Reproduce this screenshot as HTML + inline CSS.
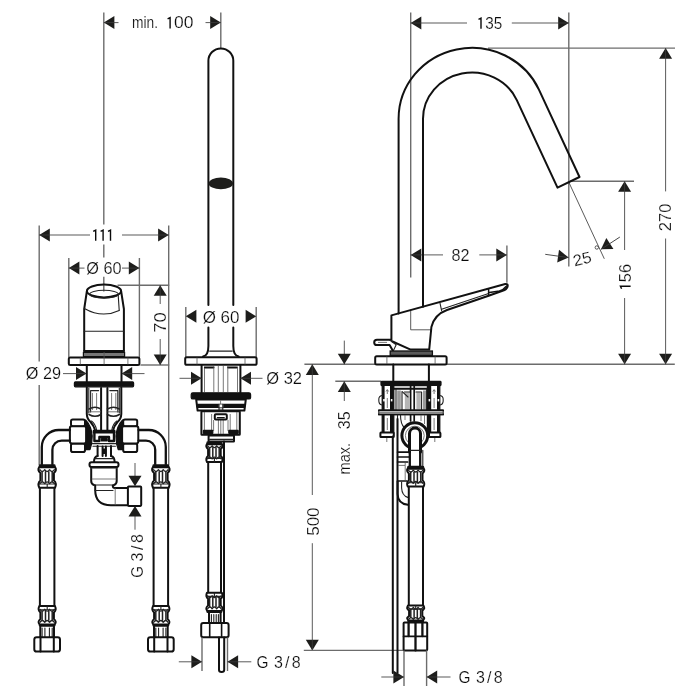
<!DOCTYPE html>
<html><head><meta charset="utf-8"><title>Dimension drawing</title>
<style>
html,body{margin:0;padding:0;background:#fff;}
svg{display:block;will-change:transform}
text{font-family:"Liberation Sans",sans-serif;font-size:16px;fill:#0a0a0a;stroke:#fff;stroke-width:0.2px;paint-order:fill stroke}
.k{stroke:#111;stroke-width:2.0;fill:none;stroke-linejoin:round;stroke-linecap:round}
.kw{stroke:#111;stroke-width:2.0;fill:#fff;stroke-linejoin:round;stroke-linecap:round}
.kf{stroke:#111;stroke-width:1.2;fill:#111;stroke-linejoin:round}
.m{stroke:#222;stroke-width:1.1;fill:none;stroke-linecap:round;stroke-linejoin:round}
.mw{stroke:#222;stroke-width:1.1;fill:#fff;stroke-linejoin:round}
.g{stroke:#555;stroke-width:0.8;fill:none}
.t{stroke:#3c3c3c;stroke-width:0.85;fill:none}
.e{stroke:#6c6c6c;stroke-width:1.4;fill:none}
.a{fill:#1d1d1b;stroke:none}
.one{stroke:#0a0a0a;stroke-width:1.4;fill:none;stroke-linejoin:miter;stroke-linecap:butt}
.w{fill:#fff;stroke:none}
</style></head><body>
<svg width="700" height="700" viewBox="0 0 700 700">
<rect class="w" x="0" y="0" width="700" height="700"/>
<g id="leftview">
<line class="e" x1="103.8" y1="12.5" x2="103.8" y2="224.6"/>
<line class="e" x1="103.8" y1="244.6" x2="103.8" y2="257.5"/>
<line class="e" x1="103.8" y1="276.8" x2="103.8" y2="291.5"/>
<line class="e" x1="220.8" y1="12.5" x2="220.8" y2="48.0"/>
<polygon class="a" points="103.8,22.6 114.4,16.1 114.4,29.1"/>
<polygon class="a" points="220.8,22.6 210.2,16.1 210.2,29.1"/>
<line class="t" x1="103.8" y1="22.6" x2="118.5" y2="22.6"/>
<line class="t" x1="205.5" y1="22.6" x2="220.8" y2="22.6"/>
<text x="132.1" y="28.4" textLength="26.0" lengthAdjust="spacingAndGlyphs">min.</text>
<path class="one" d="M167.60 18.90 L170.10 17.70 V28.40"/>
<text x="174.0" y="28.4" textLength="19.4" lengthAdjust="spacingAndGlyphs">00</text>
<line class="e" x1="39.2" y1="225.5" x2="39.2" y2="361.5"/>
<line class="e" x1="39.2" y1="385.0" x2="39.2" y2="465.0"/>
<line class="e" x1="168.7" y1="225.5" x2="168.7" y2="465.0"/>
<polygon class="a" points="39.2,235.0 49.8,228.5 49.8,241.5"/>
<polygon class="a" points="168.7,235.0 158.1,228.5 158.1,241.5"/>
<line class="t" x1="39.2" y1="235.0" x2="90.0" y2="235.0"/>
<line class="t" x1="122.0" y1="235.0" x2="168.7" y2="235.0"/>
<path class="one" d="M93.20 231.30 L95.70 230.10 V240.80"/>
<path class="one" d="M100.60 231.30 L103.10 230.10 V240.80"/>
<path class="one" d="M108.00 231.30 L110.50 230.10 V240.80"/>
<line class="e" x1="68.8" y1="258.0" x2="68.8" y2="357.0"/>
<line class="e" x1="139.4" y1="258.0" x2="139.4" y2="357.0"/>
<polygon class="a" points="68.8,268.1 79.4,261.6 79.4,274.6"/>
<polygon class="a" points="139.4,268.1 128.8,261.6 128.8,274.6"/>
<line class="t" x1="68.8" y1="268.1" x2="84.5" y2="268.1"/>
<line class="t" x1="122.0" y1="268.1" x2="139.4" y2="268.1"/>
<text x="86.3" y="273.8" textLength="35.3" lengthAdjust="spacingAndGlyphs">Ø 60</text>
<line class="e" x1="117.5" y1="285.2" x2="169.2" y2="285.2"/>
<line class="e" x1="140.4" y1="365.0" x2="169.2" y2="365.0"/>
<polygon class="a" points="160.2,285.2 153.7,295.8 166.7,295.8"/>
<polygon class="a" points="160.2,365.0 153.7,354.4 166.7,354.4"/>
<line class="t" x1="160.2" y1="285.2" x2="160.2" y2="304.0"/>
<line class="t" x1="160.2" y1="339.0" x2="160.2" y2="365.0"/>
<text x="166.4" y="332.8" textLength="20.5" lengthAdjust="spacingAndGlyphs" transform="rotate(-90 166.4 332.8)">70</text>
<polygon class="a" points="86.6,373.6 76.0,367.1 76.0,380.1"/>
<polygon class="a" points="121.6,373.6 132.2,367.1 132.2,380.1"/>
<line class="t" x1="63.0" y1="373.6" x2="86.6" y2="373.6"/>
<line class="t" x1="121.6" y1="373.6" x2="144.5" y2="373.6"/>
<text x="25.8" y="379.4" textLength="35.2" lengthAdjust="spacingAndGlyphs">Ø 29</text>
<path class="k" d="M86.9 291 L84.2 309 V351 M121.1 291 L123.9 309 V351" />
<ellipse class="k" cx="104" cy="291" rx="17.1" ry="6.4"/>
<ellipse class="m" cx="104" cy="294.2" rx="14.4" ry="3.9"/>
<path class="m" d="M118.2 295 L119.2 310.2" />
<path class="m" d="M84.4 308.4 Q102 318.6 119.2 310.4" />
<line class="m" x1="84.2" y1="331.2" x2="123.9" y2="331.2"/>
<path class="k" d="M84.2 350.9 H123.9" />
<rect x="83.4" y="352.4" width="41.2" height="4.2" fill="#777" stroke="#111" stroke-width="1.2"/>
<rect class="kw" x="68.8" y="357.4" width="70.6" height="7.7" rx="1.4" />
<line class="g" x1="80.3" y1="357.5" x2="80.3" y2="364.5"/>
<line class="g" x1="104.1" y1="352.0" x2="104.1" y2="364.5"/>
<line class="g" x1="127.9" y1="357.5" x2="127.9" y2="364.5"/>
<path class="k" d="M86.8 365 V381.5 M121.5 365 V381.5" />
<rect class="kf" x="74.4" y="381.9" width="59.2" height="4.9" rx="1.0" />
<path class="k" d="M86.8 387.5 V414 Q87 419 90.6 422 Q94 426 95 430 M121.3 387.5 V414 Q121.1 419 117.5 422 Q114 426 113.2 430" />
<path class="m" d="M88.8 388 V413 M119.3 388 V413" />
<path class="k" d="M101.1 388 V431 M107.4 388 V431" />
<path class="m" d="M90.6 390.6 H98.6 M90.6 390.6 V412 M109.8 390.6 H117.8 V412" />
<path class="g" d="M92.4 393 V410 M96.6 393 V410 M111.6 393 V410 M115.8 393 V410" />
<path class="m" d="M89 409 Q95 405.5 101 409 M107.4 409 Q113.5 405.5 119.4 409 M89 414.5 Q95 418 101 414.5 M107.4 414.5 Q113.5 418 119.4 414.5" style="stroke-width:1.5"/>
<path class="g" d="M89 411.8 H101 M107.4 411.8 H119.4" />
<path class="m" d="M91.5 421 Q95.5 424 96.6 430 M116.8 421 Q112.8 424 111.8 430" />
<rect class="kf" x="93.3" y="430.4" width="21.6" height="2.6" rx="0.5" />
<path class="k" d="M94.4 432 V441 H99.4 V437 H109 V441 H114 V432" style="stroke-width:2.4"/>
<rect class="kf" x="101.4" y="438.6" width="5.8" height="2.4" rx="0.3" />
<path class="m" d="M92.4 443.6 H116 M93 446.2 H115.4" />
<path class="k" d="M102.6 446.5 V456 M105.9 446.5 V456" />
<rect class="kf" x="102.9" y="449.0" width="2.8" height="4.5" rx="0.3" />
<path class="kf" d="M85.6 420 Q91.4 426 92.2 436 Q92.2 444 90 449.6 H85.6 Z" />
<path class="kf" d="M122.6 420 Q116.8 426 116 436 Q116 444 118.2 449.6 H122.6 Z" />
<rect class="kw" x="71.0" y="419.4" width="14.0" height="7.0" rx="1.8" />
<rect class="kw" x="71.0" y="443.4" width="14.0" height="8.6" rx="1.8" />
<rect class="kw" x="69.9" y="426.3" width="16.2" height="17.1" rx="1.8" />
<rect class="kw" x="123.2" y="419.4" width="14.0" height="7.0" rx="1.8" />
<rect class="kw" x="123.2" y="443.4" width="14.0" height="8.6" rx="1.8" />
<rect class="kw" x="122.1" y="426.3" width="16.2" height="17.1" rx="1.8" />
<path class="k" d="M97.6 446 V456 M111 446 V456" />
<path class="k" d="M97.6 456 Q94 457 94 461.8 M111 456 Q114.6 457 114.6 461.8" />
<path class="m" d="M95 458.6 H113.6" />
<rect class="kw" x="89.5" y="462.2" width="29.0" height="4.8" rx="2.0" />
<path class="k" d="M91.2 467 V481 Q91.2 484 94 485 M116.7 467 V481 Q116.7 484 114 485" />
<path class="g" d="M91.5 468.4 H116.5 M91.5 479 H116.5" />
<path class="m" d="M94 485 H114" />
<path class="k" d="M95.2 485.5 V490 Q95.2 505.2 111 505.2 H127.9 M112.8 485.5 V486 Q112.8 488 115 488 H127.9" />
<path class="m" d="M95 490.5 H113" />
<path class="g" d="M115.2 488 V505.2" />
<rect class="kw" x="127.9" y="486.6" width="13.3" height="19.3" rx="0.8" />
<line class="t" x1="135.0" y1="463.0" x2="135.0" y2="477.0"/>
<line class="t" x1="135.0" y1="516.0" x2="135.0" y2="529.7"/>
<polygon class="a" points="135.0,486.3 128.5,475.7 141.5,475.7"/>
<polygon class="a" points="135.0,505.9 128.5,516.5 141.5,516.5"/>
<text x="143.0" y="577.8" textLength="11.6" lengthAdjust="spacingAndGlyphs" transform="rotate(-90 143.0 577.8)">G</text>
<text x="143.0" y="561.4" textLength="27.4" lengthAdjust="spacing" transform="rotate(-90 143.0 561.4)">3/8</text>
<path class="k" d="M70 430 H58.8 A17 17 0 0 0 41.8 447 V465 M70 440.6 H61.6 A9.2 9.2 0 0 0 52.4 449.8 V465" style="stroke-width:2.3"/>
<path class="k" d="M138.6 430 H148.8 A17 17 0 0 1 165.8 447 V465 M138.6 440.6 H146 A9.2 9.2 0 0 1 155.2 449.8 V465" style="stroke-width:2.3"/>
<path class="k" d="M39.9 488 V606 M54.4 488 V606" style="stroke-width:2"/>
<g transform="translate(38.50 464.40)">
<rect class="w" x="0.5" y="0.5" width="16.3" height="23.2"/>
<rect class="kf" x="0.8" y="0.5" width="15.7" height="2.8" rx="0.8"/>
<path class="k" d="M0.8 2.6 C-0.7 4.6 -0.2 6.7 1.9 8.7 V16.0 C-0.2 18.0 -0.7 20.2 0.8 23.3 H16.5 C18.0 20.2 17.5 18.0 15.4 16.0 V8.7 C17.5 6.7 18.0 4.6 16.5 2.6"/>
<path class="m" style="stroke-width:1.3" d="M1.4 5.3 q2.42 3.6 4.83 0 q2.42 3.6 4.83 0 q2.42 3.6 4.83 0"/>
<path class="m" style="stroke-width:1.3" d="M1.4 19.2 q2.42 -3.6 4.83 0 q2.42 -3.6 4.83 0 q2.42 -3.6 4.83 0"/>
<line class="m" style="stroke-width:1.5" x1="3.6" y1="7.3" x2="3.6" y2="17.4"/>
<line class="m" style="stroke-width:1.5" x1="7.0" y1="7.3" x2="7.0" y2="17.4"/>
<line class="m" style="stroke-width:1.5" x1="10.3" y1="7.3" x2="10.3" y2="17.4"/>
<line class="m" style="stroke-width:1.5" x1="13.7" y1="7.3" x2="13.7" y2="17.4"/>
<path class="m" d="M1 19.6 H16.3 M8.7 19.6 V23.2"/>
</g>
<g transform="translate(38.50 626.60) scale(1 -1)">
<rect class="w" x="0.5" y="0.5" width="16.3" height="20.4"/>
<rect class="kf" x="0.8" y="0.5" width="15.7" height="2.0" rx="0.8"/>
<path class="k" d="M0.8 2.6 C-0.7 4.6 -0.2 5.7 1.9 7.7 V14.1 C-0.2 16.1 -0.7 17.4 0.8 20.5 H16.5 C18.0 17.4 17.5 16.1 15.4 14.1 V7.7 C17.5 5.7 18.0 4.6 16.5 2.6"/>
<path class="m" style="stroke-width:1.3" d="M1.4 4.3 q2.42 3.6 4.83 0 q2.42 3.6 4.83 0 q2.42 3.6 4.83 0"/>
<path class="m" style="stroke-width:1.3" d="M1.4 17.3 q2.42 -3.6 4.83 0 q2.42 -3.6 4.83 0 q2.42 -3.6 4.83 0"/>
<line class="m" style="stroke-width:1.5" x1="3.6" y1="6.3" x2="3.6" y2="15.5"/>
<line class="m" style="stroke-width:1.5" x1="7.0" y1="6.3" x2="7.0" y2="15.5"/>
<line class="m" style="stroke-width:1.5" x1="10.3" y1="6.3" x2="10.3" y2="15.5"/>
<line class="m" style="stroke-width:1.5" x1="13.7" y1="6.3" x2="13.7" y2="15.5"/>
<path class="m" d="M1 16.8 H16.3 M8.7 16.8 V20.4"/>
</g>
<path class="k" d="M40.3 626.6 V637 M54.0 626.6 V637" />
<path class="m" d="M42.1 628 V637 M44.9 628 V637 M49.4 628 V637 M52.2 628 V637" />
<rect class="kw" x="34.3" y="637.2" width="25.7" height="14.4" rx="2.4" />
<path class="k" d="M40.5 637.2 V651.6 M53.8 637.2 V651.6" />
<path class="k" d="M153.6 488 V606 M168.1 488 V606" style="stroke-width:2"/>
<g transform="translate(152.20 464.40)">
<rect class="w" x="0.5" y="0.5" width="16.3" height="23.2"/>
<rect class="kf" x="0.8" y="0.5" width="15.7" height="2.8" rx="0.8"/>
<path class="k" d="M0.8 2.6 C-0.7 4.6 -0.2 6.7 1.9 8.7 V16.0 C-0.2 18.0 -0.7 20.2 0.8 23.3 H16.5 C18.0 20.2 17.5 18.0 15.4 16.0 V8.7 C17.5 6.7 18.0 4.6 16.5 2.6"/>
<path class="m" style="stroke-width:1.3" d="M1.4 5.3 q2.42 3.6 4.83 0 q2.42 3.6 4.83 0 q2.42 3.6 4.83 0"/>
<path class="m" style="stroke-width:1.3" d="M1.4 19.2 q2.42 -3.6 4.83 0 q2.42 -3.6 4.83 0 q2.42 -3.6 4.83 0"/>
<line class="m" style="stroke-width:1.5" x1="3.6" y1="7.3" x2="3.6" y2="17.4"/>
<line class="m" style="stroke-width:1.5" x1="7.0" y1="7.3" x2="7.0" y2="17.4"/>
<line class="m" style="stroke-width:1.5" x1="10.3" y1="7.3" x2="10.3" y2="17.4"/>
<line class="m" style="stroke-width:1.5" x1="13.7" y1="7.3" x2="13.7" y2="17.4"/>
<path class="m" d="M1 19.6 H16.3 M8.7 19.6 V23.2"/>
</g>
<g transform="translate(152.20 626.60) scale(1 -1)">
<rect class="w" x="0.5" y="0.5" width="16.3" height="20.4"/>
<rect class="kf" x="0.8" y="0.5" width="15.7" height="2.0" rx="0.8"/>
<path class="k" d="M0.8 2.6 C-0.7 4.6 -0.2 5.7 1.9 7.7 V14.1 C-0.2 16.1 -0.7 17.4 0.8 20.5 H16.5 C18.0 17.4 17.5 16.1 15.4 14.1 V7.7 C17.5 5.7 18.0 4.6 16.5 2.6"/>
<path class="m" style="stroke-width:1.3" d="M1.4 4.3 q2.42 3.6 4.83 0 q2.42 3.6 4.83 0 q2.42 3.6 4.83 0"/>
<path class="m" style="stroke-width:1.3" d="M1.4 17.3 q2.42 -3.6 4.83 0 q2.42 -3.6 4.83 0 q2.42 -3.6 4.83 0"/>
<line class="m" style="stroke-width:1.5" x1="3.6" y1="6.3" x2="3.6" y2="15.5"/>
<line class="m" style="stroke-width:1.5" x1="7.0" y1="6.3" x2="7.0" y2="15.5"/>
<line class="m" style="stroke-width:1.5" x1="10.3" y1="6.3" x2="10.3" y2="15.5"/>
<line class="m" style="stroke-width:1.5" x1="13.7" y1="6.3" x2="13.7" y2="15.5"/>
<path class="m" d="M1 16.8 H16.3 M8.7 16.8 V20.4"/>
</g>
<path class="k" d="M154.0 626.6 V637 M167.7 626.6 V637" />
<path class="m" d="M155.8 628 V637 M158.6 628 V637 M163.1 628 V637 M165.9 628 V637" />
<rect class="kw" x="148.0" y="637.2" width="25.7" height="14.4" rx="2.4" />
<path class="k" d="M154.2 637.2 V651.6 M167.5 637.2 V651.6" />
</g>
<g id="midview">
<path class="k" d="M208.4 305 V60.85 A12.45 12.45 0 0 1 233.3 60.85 V305" />
<path class="k" d="M208.4 327.5 V346 Q208.4 355.5 203 356.6 M233.3 327.5 V346 Q233.3 355.5 238.7 356.6" />
<ellipse class="a" cx="220.85" cy="183.4" rx="12.2" ry="5.8"/>
<path class="m" d="M209.6 351.1 H232.2" />
<line class="e" x1="185.8" y1="307.0" x2="185.8" y2="357.0"/>
<line class="e" x1="256.2" y1="307.0" x2="256.2" y2="357.0"/>
<polygon class="a" points="185.8,316.3 196.4,309.8 196.4,322.8"/>
<polygon class="a" points="256.2,316.3 245.6,309.8 245.6,322.8"/>
<text x="202.7" y="323.2" textLength="36.8" lengthAdjust="spacingAndGlyphs">Ø 60</text>
<rect class="kw" x="185.2" y="357.2" width="71.4" height="7.6" rx="1.6" />
<line class="g" x1="197.0" y1="357.5" x2="197.0" y2="364.5"/>
<line class="g" x1="245.0" y1="357.5" x2="245.0" y2="364.5"/>
<path class="k" d="M201.6 365 V392.5 M240.4 365 V392.5" />
<path class="g" d="M204.5 366.5 V392 M237.5 366.5 V392" />
<path class="k" d="M205 367.5 H213.5 M228 367.5 H236.5" />
<path class="g" d="M213.8 366 V392 M218.3 366 V392 M223.3 366 V392 M227.8 366 V392" />
<polygon class="a" points="201.6,378.3 191.0,371.8 191.0,384.8"/>
<polygon class="a" points="240.4,378.3 251.0,371.8 251.0,384.8"/>
<line class="t" x1="179.5" y1="378.3" x2="201.6" y2="378.3"/>
<line class="t" x1="240.4" y1="378.3" x2="262.5" y2="378.3"/>
<text x="266.3" y="384.0" textLength="35.7" lengthAdjust="spacingAndGlyphs">Ø 32</text>
<rect class="kf" x="191.2" y="392.8" width="59.4" height="6.2" rx="1.6" />
<path class="kw" d="M196.2 399.5 L197.6 410.6 H244.4 L245.8 399.5 Z" />
<rect class="kf" x="197.4" y="404.4" width="47.2" height="3.0" rx="0.2" />
<path class="g" d="M220.6 400.5 V404 M220 408 V411 M222 408 V411" />
<rect class="w" x="218.8" y="404.4" width="4.4" height="3.0" rx="0.0" />
<path class="m" d="M219 404.4 V416 M222.8 404.4 V416" />
<rect class="kw" x="201.4" y="411.2" width="38.4" height="23.6" rx="0.6" />
<path class="g" d="M204.4 412 V430 M236.8 412 V430" />
<path class="g" d="M211.6 414 V431 M213.6 420 V431 M228 420 V431 M230.2 414 V431" />
<path class="g" d="M218.4 420 V434 M220.8 420 V434 M223.2 420 V434" />
<rect class="kw" x="214.8" y="414.2" width="12.0" height="5.4" rx="1.0" />
<path class="k" d="M217.4 417.6 H224.2" style="stroke-width:1.4"/>
<rect class="kf" x="203.4" y="430.4" width="9.4" height="3.0" rx="0.3" />
<rect class="kf" x="228.8" y="430.4" width="9.4" height="3.0" rx="0.3" />
<rect class="kw" x="208.6" y="435.4" width="25.4" height="6.2" rx="0.4" />
<path class="m" d="M209.6 439.4 H233" />
<path class="k" d="M224 441.6 V623" />
<g transform="translate(206.20 441.40)">
<rect class="w" x="0.5" y="0.5" width="15.4" height="20.6"/>
<rect class="kf" x="0.8" y="0.5" width="14.8" height="2.8" rx="0.8"/>
<path class="k" d="M0.8 2.6 C-0.7 4.6 -0.2 5.8 1.9 7.8 V14.3 C-0.2 16.3 -0.7 17.6 0.8 20.7 H15.6 C17.1 17.6 16.6 16.3 14.5 14.3 V7.8 C16.6 5.8 17.1 4.6 15.6 2.6"/>
<path class="m" style="stroke-width:1.3" d="M1.4 4.4 q2.27 3.6 4.53 0 q2.27 3.6 4.53 0 q2.27 3.6 4.53 0"/>
<path class="m" style="stroke-width:1.3" d="M1.4 17.5 q2.27 -3.6 4.53 0 q2.27 -3.6 4.53 0 q2.27 -3.6 4.53 0"/>
<line class="m" style="stroke-width:1.5" x1="3.4" y1="6.4" x2="3.4" y2="15.7"/>
<line class="m" style="stroke-width:1.5" x1="6.6" y1="6.4" x2="6.6" y2="15.7"/>
<line class="m" style="stroke-width:1.5" x1="9.8" y1="6.4" x2="9.8" y2="15.7"/>
<line class="m" style="stroke-width:1.5" x1="13.0" y1="6.4" x2="13.0" y2="15.7"/>
<path class="m" d="M1 17.0 H15.4 M8.2 17.0 V20.6"/>
</g>
<path class="k" d="M208.2 463 V593 M221 463 V593" />
<g transform="translate(206.20 613.00) scale(1 -1)">
<rect class="w" x="0.5" y="0.5" width="15.4" height="20.2"/>
<rect class="kf" x="0.8" y="0.5" width="14.8" height="2.0" rx="0.8"/>
<path class="k" d="M0.8 2.6 C-0.7 4.6 -0.2 5.6 1.9 7.6 V14.0 C-0.2 16.0 -0.7 17.2 0.8 20.3 H15.6 C17.1 17.2 16.6 16.0 14.5 14.0 V7.6 C16.6 5.6 17.1 4.6 15.6 2.6"/>
<path class="m" style="stroke-width:1.3" d="M1.4 4.2 q2.27 3.6 4.53 0 q2.27 3.6 4.53 0 q2.27 3.6 4.53 0"/>
<path class="m" style="stroke-width:1.3" d="M1.4 17.2 q2.27 -3.6 4.53 0 q2.27 -3.6 4.53 0 q2.27 -3.6 4.53 0"/>
<line class="m" style="stroke-width:1.5" x1="3.4" y1="6.2" x2="3.4" y2="15.4"/>
<line class="m" style="stroke-width:1.5" x1="6.6" y1="6.2" x2="6.6" y2="15.4"/>
<line class="m" style="stroke-width:1.5" x1="9.8" y1="6.2" x2="9.8" y2="15.4"/>
<line class="m" style="stroke-width:1.5" x1="13.0" y1="6.2" x2="13.0" y2="15.4"/>
<path class="m" d="M1 16.6 H15.4 M8.2 16.6 V20.2"/>
</g>
<path class="k" d="M209.0 613 V623 M220.6 613 V623" />
<path class="m" d="M211.4 614.5 V623 M213.8 614.5 V623 M216.2 614.5 V623 M218.4 614.5 V623" />
<path class="kw" d="M203.2 623 H226.6 Q228.6 623 228.6 625 V635.2 Q228.6 637.2 226.6 637.2 H203.2 Q201.2 637.2 201.2 635.2 V625 Q201.2 623 203.2 623 Z" />
<path class="k" d="M209.7 623 V637.2 M221.6 623 V637.2" style="stroke-width:1.6"/>
<path class="k" d="M219 637.5 V670 Q219 672 221.6 672 Q224.2 672 224.2 670 V637.5" />
<line class="e" x1="202.0" y1="637.5" x2="202.0" y2="671.0"/>
<line class="e" x1="227.5" y1="637.5" x2="227.5" y2="671.0"/>
<polygon class="a" points="202.0,661.8 191.4,655.3 191.4,668.3"/>
<polygon class="a" points="227.5,661.8 238.1,655.3 238.1,668.3"/>
<line class="t" x1="178.8" y1="661.8" x2="202.0" y2="661.8"/>
<line class="t" x1="227.5" y1="661.8" x2="251.3" y2="661.8"/>
<text x="256.4" y="668.0" textLength="12.0" lengthAdjust="spacingAndGlyphs">G</text>
<text x="274.0" y="668.0" textLength="26.6" lengthAdjust="spacing">3/8</text>
</g>
<line class="e" x1="304.4" y1="364.3" x2="674.8" y2="364.3"/>
<polygon class="a" points="312.3,364.3 305.8,374.9 318.8,374.9"/>
<polygon class="a" points="312.3,650.4 305.8,639.8 318.8,639.8"/>
<line class="t" x1="312.3" y1="364.3" x2="312.3" y2="495.0"/>
<line class="t" x1="312.3" y1="543.2" x2="312.3" y2="650.4"/>
<text x="318.8" y="535.8" textLength="28.4" lengthAdjust="spacingAndGlyphs" transform="rotate(-90 318.8 535.8)">500</text>
<line class="e" x1="303.8" y1="650.4" x2="403.5" y2="650.4"/>
<line class="t" x1="344.3" y1="340.6" x2="344.3" y2="364.3"/>
<polygon class="a" points="344.3,364.3 337.8,353.7 350.8,353.7"/>
<line class="e" x1="335.3" y1="381.3" x2="381.0" y2="381.3"/>
<polygon class="a" points="344.3,381.3 337.8,391.9 350.8,391.9"/>
<line class="t" x1="344.3" y1="381.3" x2="344.3" y2="401.0"/>
<text x="350.2" y="429.2" textLength="17.8" lengthAdjust="spacingAndGlyphs" transform="rotate(-90 350.2 429.2)">35</text>
<text x="350.0" y="474.4" textLength="31.5" lengthAdjust="spacingAndGlyphs" transform="rotate(-90 350.0 474.4)">max.</text>
<g id="rightview">
<line class="e" x1="410.7" y1="12.5" x2="410.7" y2="277.6"/>
<line class="e" x1="568.8" y1="12.5" x2="568.8" y2="266.6"/>
<polygon class="a" points="410.7,23.0 421.3,16.5 421.3,29.5"/>
<polygon class="a" points="568.8,23.0 558.2,16.5 558.2,29.5"/>
<line class="t" x1="410.7" y1="23.0" x2="467.0" y2="23.0"/>
<line class="t" x1="511.8" y1="23.0" x2="568.8" y2="23.0"/>
<path class="one" d="M478.50 19.30 L481.00 18.10 V28.80"/>
<text x="485.2" y="28.8" textLength="17.0" lengthAdjust="spacingAndGlyphs">35</text>
<line class="e" x1="488.0" y1="48.1" x2="675.0" y2="48.1"/>
<polygon class="a" points="665.6,48.1 659.1,58.7 672.1,58.7"/>
<polygon class="a" points="665.6,364.3 659.1,353.7 672.1,353.7"/>
<line class="t" x1="665.6" y1="48.1" x2="665.6" y2="191.4"/>
<line class="t" x1="665.6" y1="238.5" x2="665.6" y2="364.3"/>
<text x="671.0" y="231.2" textLength="27.6" lengthAdjust="spacingAndGlyphs" transform="rotate(-90 671.0 231.2)">270</text>
<line class="e" x1="570.0" y1="181.2" x2="634.0" y2="181.2"/>
<polygon class="a" points="624.6,181.2 618.1,191.8 631.1,191.8"/>
<polygon class="a" points="624.6,364.3 618.1,353.7 631.1,353.7"/>
<line class="t" x1="624.6" y1="181.2" x2="624.6" y2="250.0"/>
<line class="t" x1="624.6" y1="298.0" x2="624.6" y2="364.3"/>
<path class="one" transform="rotate(-90 630.6 286.2)" d="M628.10 277.20 L630.60 276.00 V286.20"/>
<text x="630.6" y="282.2" textLength="18.2" lengthAdjust="spacingAndGlyphs" transform="rotate(-90 630.6 282.2)">56</text>
<line class="t" x1="568.9" y1="182.4" x2="604.3" y2="258.8"/>
<g transform="rotate(8 568.6 257.6)">
<polygon class="a" points="568.6,257.6 558.0,251.1 558.0,264.1"/>
<line class="t" x1="545.0" y1="257.6" x2="568.6" y2="257.6"/>
</g>
<g transform="rotate(-33 601 249.3)">
<polygon class="a" points="601.0,249.3 611.6,242.8 611.6,255.8"/>
<line class="t" x1="601.0" y1="249.3" x2="623.5" y2="249.3"/>
</g>
<text x="574.6" y="266.4" textLength="18.6" lengthAdjust="spacingAndGlyphs" transform="rotate(-14 574.6 266.4)">25</text>
<circle class="t" cx="596.8" cy="247.5" r="1.7"/>
<line class="e" x1="506.9" y1="245.4" x2="506.9" y2="282.7"/>
<polygon class="a" points="410.7,254.9 421.3,248.4 421.3,261.4"/>
<polygon class="a" points="506.9,254.9 496.3,248.4 496.3,261.4"/>
<line class="t" x1="410.7" y1="254.9" x2="443.0" y2="254.9"/>
<line class="t" x1="479.3" y1="254.9" x2="506.9" y2="254.9"/>
<text x="451.6" y="260.6" textLength="18.0" lengthAdjust="spacingAndGlyphs">82</text>
<path class="k" d="M398.6 313.4 V118.8 A73.4 70.9 0 0 1 538.93 89.68 L579.5 177 L557.5 187.6 L516.8 100.06 A49 46.4 0 0 0 423 118.8 V306.7" />
<path class="t" d="M410.7 309.7 V329.8 H431" />
<path class="k" d="M391.4 315.4 L505.2 284 Q508.4 283.6 507.6 286.6 Q506.6 289.6 502.6 290.8 L488.6 295.8 L447 310 Q434.5 314.5 431.4 327 L429.2 349.6 H410.6 L391.4 341 Z" />
<path class="m" d="M440 303.2 L441.6 310.6 M441.6 309.2 L488.6 293.4" />
<path class="k" d="M488.6 289.4 V295.6 M489.4 292.6 L499.5 291 Q503.5 289.8 506.6 286" style="stroke-width:1.5"/>
<path class="kw" d="M391 339.8 H377 Q374.2 339.8 374.2 342.4 Q374.2 345 377 345 H389.6 L393 351" />
<path class="g" d="M378 342.4 H387" />
<path class="m" d="M389.6 340 L396.2 344.8 L393.2 351" />
<rect x="390.2" y="351" width="42.2" height="4.4" fill="#5a5a5a" stroke="#111" stroke-width="1.3"/>
<rect class="kw" x="375.2" y="356.3" width="71.4" height="8.2" rx="1.5" />
<line class="g" x1="386.9" y1="356.4" x2="386.9" y2="364.0"/>
<line class="g" x1="435.1" y1="356.4" x2="435.1" y2="364.0"/>
<path class="k" d="M393.3 364.4 V381.5 M428.9 364.4 V381.5" />
<rect class="kf" x="381.0" y="381.4" width="60.0" height="4.2" rx="0.8" />
<rect class="kf" x="382.2" y="385.5" width="11.6" height="47.5" rx="0.0" />
<rect class="w" x="384.6" y="386.0" width="5.4" height="46.5" rx="0.0" />
<rect class="kf" x="427.4" y="385.5" width="12.4" height="47.5" rx="0.0" />
<rect class="w" x="431.2" y="386.0" width="5.8" height="46.5" rx="0.0" />
<path class="g" d="M387.3 390 V394 M387.3 398 V408 M387.3 418 V430 M434.1 390 V394 M434.1 398 V408 M434.1 418 V430" />
<path class="g" d="M386 391.5 L387.3 389.5 L388.6 391.5 M432.8 391.5 L434.1 389.5 L435.4 391.5" />
<path class="m" d="M382 395.5 Q378.6 396 378.8 400 Q378.6 404.5 382 405 M440 395.5 Q443.4 396 443.2 400 Q443.4 404.5 440 405" />
<rect class="w" x="383.2" y="399.0" width="1.6" height="2.4" rx="0.0" />
<rect class="w" x="437.6" y="399.0" width="1.6" height="2.4" rx="0.0" />
<rect class="w" x="390.8" y="399.0" width="1.6" height="2.4" rx="0.0" />
<rect class="w" x="428.6" y="399.0" width="1.6" height="2.4" rx="0.0" />
<rect x="397.2" y="390.5" width="3.6" height="19" fill="#9a9a9a"/><rect x="404.8" y="392.5" width="4.4" height="17" fill="#b5b5b5"/><rect x="416.4" y="392.5" width="4.4" height="17" fill="#b5b5b5"/><rect x="423" y="390.5" width="3.6" height="19" fill="#9a9a9a"/>
<path class="k" d="M394 388.8 H427.4" style="stroke-width:2"/>
<path class="m" d="M396 389 V410 M402 391.5 V410 M404.4 392 H410 M416 392 H421.6 V410 M426.6 389 V410" />
<path class="m" d="M402.5 391.8 L408 397" />
<path class="k" d="M410.6 386 V421 M414.2 386 V421" style="stroke-width:1.7"/>
<rect class="mw" x="378.8" y="410.0" width="64.4" height="4.8" rx="0.0" />
<path class="k" d="M378.8 410.4 H443.2 M378.8 414.4 H443.2" style="stroke-width:1.7"/>
<path class="g" d="M379 412.4 H443" />
<rect class="kw" x="380.4" y="432.6" width="13.4" height="4.4" rx="0.6" />
<rect class="kw" x="429.0" y="432.6" width="11.4" height="4.4" rx="0.6" />
<path class="g" d="M386.8 438 V442 M434.8 438 V442" />
<path class="m" d="M397.5 415 V436 M400.5 415 Q400.5 424 404.5 428" />
<path class="g" d="M405 415 V420 M421 415 V421 M424.5 415 V424" />
<path class="k" d="M392.8 436.5 V673 M397.5 419 V673" />
<circle class="kw" cx="414.8" cy="435.6" r="12.9" style="stroke-width:3"/>
<circle class="g" cx="414.8" cy="435.6" r="9.4"/>
<path class="kw" d="M409.5 452 V433.6 A5.5 5.5 0 0 1 420.5 433.6 V452" style="stroke-width:3"/>
<path class="k" d="M409.8 450 V466 M420.2 450 V466" style="stroke-width:2.3"/>
<path class="k" d="M397.6 452.2 H409 M397.6 457 H409" style="stroke-width:1.7"/>
<path class="k" d="M397.6 462 H407.6 M397.6 481 H407.2" style="stroke-width:1.7"/>
<path class="g" d="M405.2 463 V480.4 M398 465.4 H405" />
<path class="k" d="M397.6 481.5 V494 Q397.8 503.6 407.8 504.8" />
<path class="m" d="M401.6 482 V488 Q402 495.6 407.8 497.4" />
<path class="m" d="M410 450.4 H420.4" />
<path class="m" d="M422.8 450.4 V465.6" />
<g transform="translate(407.00 465.80)">
<rect class="w" x="0.5" y="0.5" width="16.4" height="20.6"/>
<rect class="kf" x="0.8" y="0.5" width="15.8" height="2.8" rx="0.8"/>
<path class="k" d="M0.8 2.6 C-0.7 4.6 -0.2 5.8 1.9 7.8 V14.3 C-0.2 16.3 -0.7 17.6 0.8 20.7 H16.6 C18.1 17.6 17.6 16.3 15.5 14.3 V7.8 C17.6 5.8 18.1 4.6 16.6 2.6"/>
<path class="m" style="stroke-width:1.3" d="M1.4 4.4 q2.43 3.6 4.87 0 q2.43 3.6 4.87 0 q2.43 3.6 4.87 0"/>
<path class="m" style="stroke-width:1.3" d="M1.4 17.5 q2.43 -3.6 4.87 0 q2.43 -3.6 4.87 0 q2.43 -3.6 4.87 0"/>
<line class="m" style="stroke-width:1.5" x1="3.7" y1="6.4" x2="3.7" y2="15.7"/>
<line class="m" style="stroke-width:1.5" x1="7.0" y1="6.4" x2="7.0" y2="15.7"/>
<line class="m" style="stroke-width:1.5" x1="10.4" y1="6.4" x2="10.4" y2="15.7"/>
<line class="m" style="stroke-width:1.5" x1="13.7" y1="6.4" x2="13.7" y2="15.7"/>
<path class="m" d="M1 17.0 H16.4 M8.7 17.0 V20.6"/>
</g>
<path class="k" d="M408.8 487.5 V606 M423 487.5 V606" />
<g transform="translate(407.20 622.50) scale(1 -1)">
<rect class="w" x="0.5" y="0.5" width="16.0" height="17.0"/>
<rect class="kf" x="0.8" y="0.5" width="15.4" height="2.0" rx="0.8"/>
<path class="k" d="M0.8 2.6 C-0.7 4.6 -0.2 4.5 1.9 6.5 V11.9 C-0.2 13.9 -0.7 14.0 0.8 17.1 H16.2 C17.7 14.0 17.2 13.9 15.1 11.9 V6.5 C17.2 4.5 17.7 4.6 16.2 2.6"/>
<path class="m" style="stroke-width:1.3" d="M1.4 3.1 q2.37 3.6 4.73 0 q2.37 3.6 4.73 0 q2.37 3.6 4.73 0"/>
<path class="m" style="stroke-width:1.3" d="M1.4 15.1 q2.37 -3.6 4.73 0 q2.37 -3.6 4.73 0 q2.37 -3.6 4.73 0"/>
<line class="m" style="stroke-width:1.5" x1="3.6" y1="5.1" x2="3.6" y2="13.3"/>
<line class="m" style="stroke-width:1.5" x1="6.9" y1="5.1" x2="6.9" y2="13.3"/>
<line class="m" style="stroke-width:1.5" x1="10.1" y1="5.1" x2="10.1" y2="13.3"/>
<line class="m" style="stroke-width:1.5" x1="13.4" y1="5.1" x2="13.4" y2="13.3"/>
<path class="m" d="M1 13.4 H16.0 M8.5 13.4 V17.0"/>
</g>
<rect class="kw" x="403.6" y="622.4" width="23.6" height="28.0" rx="0.8" />
<path class="k" d="M408.6 622.4 V636 M415.5 622.4 V650.4 M422.4 622.4 V636" style="stroke-width:2.3"/>
<path class="k" d="M403.6 636.4 H427.2" style="stroke-width:1.8"/>
<line class="e" x1="404.0" y1="650.4" x2="404.0" y2="686.0"/>
<line class="e" x1="426.6" y1="650.4" x2="426.6" y2="686.0"/>
<polygon class="a" points="404.0,677.0 393.4,670.5 393.4,683.5"/>
<polygon class="a" points="426.6,677.0 437.2,670.5 437.2,683.5"/>
<line class="t" x1="381.3" y1="677.0" x2="403.8" y2="677.0"/>
<line class="t" x1="427.0" y1="677.0" x2="450.5" y2="677.0"/>
<text x="458.6" y="683.4" textLength="12.0" lengthAdjust="spacingAndGlyphs">G</text>
<text x="476.0" y="683.4" textLength="26.6" lengthAdjust="spacing">3/8</text>
</g>
</svg>
</body></html>
